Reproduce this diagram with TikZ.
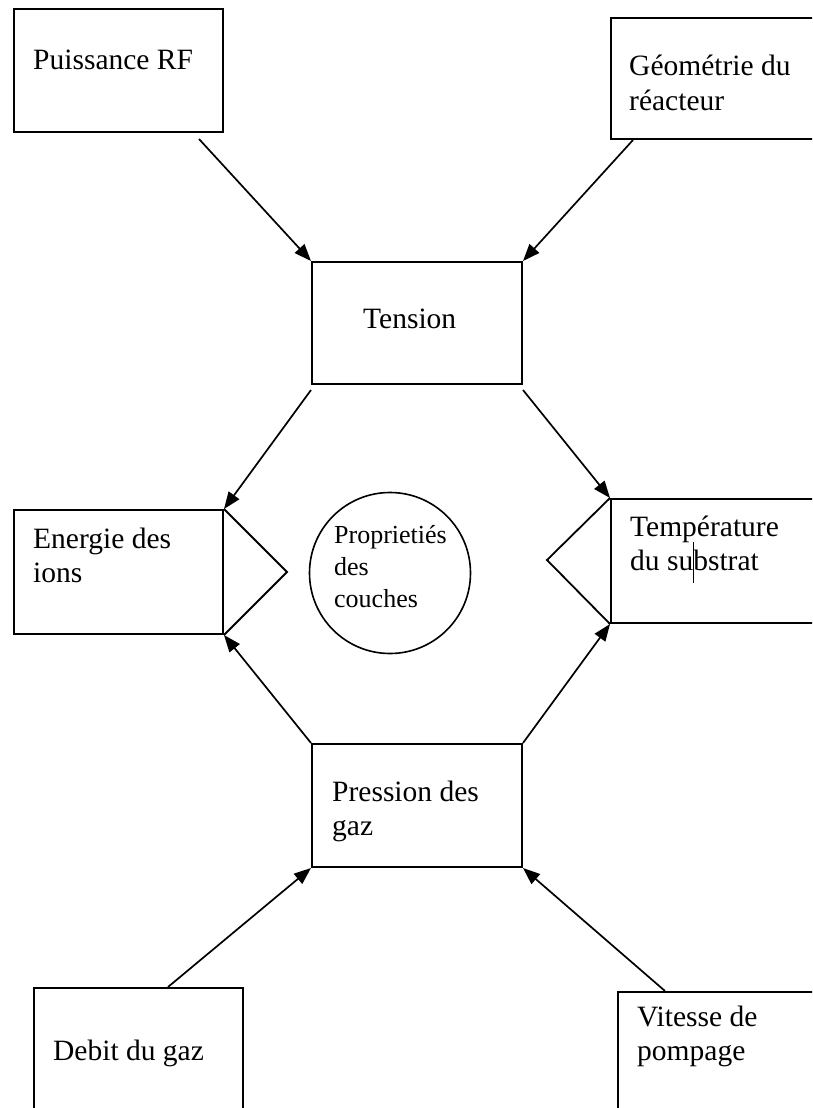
\documentclass[tikz,border=0pt]{standalone}
\usepackage{fontspec}
\setmainfont{Liberation Serif}
\usetikzlibrary{arrows.meta,positioning}

\tikzset{
  facteur/.style={draw,line width=2pt,minimum width=209pt,minimum height=123pt,
    anchor=north west,inner sep=0pt},
  libelle/.style={anchor=base west,align=left,inner sep=0pt,
    font=\fontsize{29.5}{34}\selectfont},
  fleche/.style={line width=1.7pt,-{Triangle[length=17pt,width=13pt]}},
  trait/.style={line width=1.8pt}
}

\begin{document}
\begin{tikzpicture}[x=1pt,y=-1pt]
  \useasboundingbox (0,0) rectangle (812,1108);
  \clip (0,0) rectangle (812,1108);
  % boxes
  \node[facteur] (puissance) at (13,8) {};
  \node[facteur,minimum height=121pt] (geometrie) at (610,17) {};
  \node[facteur,minimum width=210pt,minimum height=122pt] (tension) at (311,261) {};
  \node[facteur,minimum height=124pt] (energie) at (13,509) {};
  \node[facteur,minimum height=124pt] (temperature) at (610,498) {};
  \node[facteur,minimum width=210pt] (pression) at (311,743) {};
  \node[facteur] (debit) at (33,987) {};
  \node[facteur] (vitesse) at (617,991) {};
  \node[draw,circle,line width=1.6pt,minimum size=161pt,inner sep=0pt] (proprietes) at (390,573) {};
  % texts (base = last line)
  \node[libelle] (tpuissance) at ([xshift=20pt,yshift=-62pt]puissance.north west) {Puissance RF};
  \node[libelle] (tgeometrie) at ([xshift=19pt,yshift=-93pt]geometrie.north west) {Géométrie du\\réacteur};
  \node[libelle] (ttension) at ([xshift=52pt,yshift=-67pt]tension.north west) {Tension};
  \node[libelle] (tenergie) at ([xshift=20pt,yshift=-73pt]energie.north west) {Energie des\\ions};
  \node[libelle] (ttemperature) at ([xshift=20pt,yshift=-72pt]temperature.north west) {Température\\du substrat};
  \node[libelle] (tpression) at ([xshift=21pt,yshift=-92pt]pression.north west) {Pression des\\gaz};
  \node[libelle] (tdebit) at ([xshift=20pt,yshift=-73pt]debit.north west) {Debit du gaz};
  \node[libelle] (tvitesse) at ([xshift=20pt,yshift=-69pt]vitesse.north west) {Vitesse de\\pompage};
  \node[libelle,font=\fontsize{26}{32}\selectfont] (tproprietes) at ([xshift=-56pt,yshift=-34pt]proprietes.center) {Proprietiés\\des\\couches};
  \draw[line width=1pt] (693,542) -- (693,583);
  % notches
  \draw[trait] (energie.north east) -- ++(63,63) -- (energie.south east);
  \draw[trait] (temperature.north west) -- ++(-63,62) -- (temperature.south west);
  % arrows
  \draw[fleche] ([xshift=-25pt,yshift=-6pt]puissance.south east) -- (tension.north west);
  \draw[fleche] ([xshift=23pt]geometrie.south west) -- (tension.north east);
  \draw[fleche] ([yshift=-5pt]tension.south west) -- (energie.north east);
  \draw[fleche] ([yshift=-5pt]tension.south east) -- (temperature.north west);
  \draw[fleche] (pression.north west) -- (energie.south east);
  \draw[fleche] (pression.north east) -- (temperature.south west);
  \draw[fleche] ([xshift=135pt]debit.north west) -- (pression.south west);
  \draw[fleche] ([xshift=48pt]vitesse.north west) -- (pression.south east);
\end{tikzpicture}
\end{document}
